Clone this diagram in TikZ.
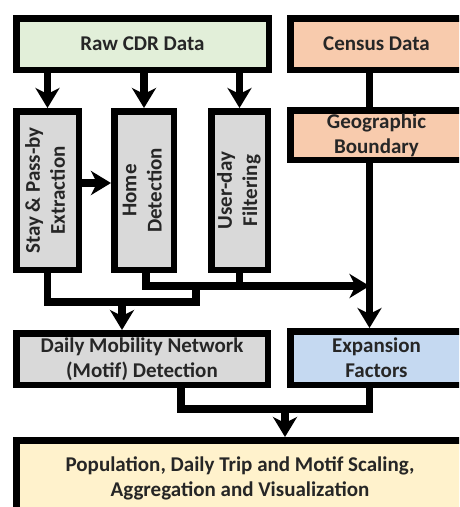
\documentclass[tikz,border=0pt]{standalone}
\usepackage{fontspec}
\setmainfont{Carlito}
\usepackage{graphicx}
\usetikzlibrary{positioning,arrows.meta}
\definecolor{cdrgreen}{HTML}{E2EFD9}
\definecolor{censusorange}{HTML}{F8CBAD}
\definecolor{stepgray}{HTML}{D9D9D9}
\definecolor{expblue}{HTML}{C5D9F1}
\definecolor{finalyellow}{HTML}{FFF2CC}
% rotated two-line label for the tall step boxes
\newcommand{\vlabel}[1]{\rotatebox{90}{\begin{tabular}{@{}c@{}}#1\end{tabular}}}
\begin{document}
\begin{tikzpicture}[x=1pt,y=-1pt,
  box/.style={draw=black,line width=6.5pt,text=black!85,align=center,inner sep=0pt,
    font=\fontsize{21}{25}\selectfont\bfseries},
  stepbox/.style={box,fill=stepgray,minimum height=158.5pt},
  conn/.style={line width=7.5pt},
  arr/.style={conn,-{Stealth[length=20pt,width=24pt,inset=6pt]}}]
\useasboundingbox (0,0) rectangle (459,507);
\clip (0,0) rectangle (459,507);
% data sources
\node[box,fill=cdrgreen,minimum width=252.5pt,minimum height=51.5pt] (raw) at (142.5,44) {Raw CDR Data};
\node[box,fill=censusorange,minimum width=172.5pt,minimum height=51.5pt] (census) at (376.5,44) {Census Data};
\node[box,fill=censusorange,minimum width=172.5pt,minimum height=49.5pt] (geo) at (376.5,135) {Geographic\\Boundary};
% processing steps (vertical text)
\node[stepbox,minimum width=62.5pt] (stay) at (47.5,190.5) {\vlabel{Stay \& Pass-by\\Extraction}};
\node[stepbox,minimum width=59.5pt] (home) at (144,190.5) {\vlabel{Home\\Detection}};
\node[stepbox,minimum width=56.5pt] (user) at (239.5,190.5) {\vlabel{User-day\\Filtering}};
% results
\node[box,fill=stepgray,minimum width=251.5pt,minimum height=51.5pt] (daily) at (142,359) {Daily Mobility Network\\(Motif) Detection};
\node[box,fill=expblue,minimum width=172.5pt,minimum height=53.5pt] (expan) at (376.5,358) {Expansion\\Factors};
\node[box,fill=finalyellow,minimum width=447.5pt,minimum height=77pt] (final) at (240,478.75) {Population, Daily Trip and Motif Scaling,\\Aggregation and Visualization};
% raw data into the three steps
\foreach \n in {stay,home,user}{
  \draw[arr] (raw.south -| \n.north) -- (\n.north);
}
\draw[arr] ([yshift=7.5pt]stay.east) -- ([yshift=7.5pt]stay.east -| home.west);
% census side column
\draw[conn] ([xshift=-7pt]census.south) -- ([xshift=-7pt]geo.north);
\draw[arr] ([xshift=-7pt]geo.south) -- ([xshift=-7pt]expan.north);
% joins below the steps
\coordinate (expIn) at ([xshift=-7pt]geo.south |- 0,286);
\coordinate (mobJoin) at (196,302);
\coordinate (mobIn) at (122,302);
\draw[conn] (stay.south) |- (mobJoin) -- (mobJoin |- expIn);
\draw[arr] ([xshift=2pt]home.south) |- (expIn);
\draw[conn] (user.south) -- (user.south |- expIn);
\draw[arr] (mobIn) -- (mobIn |- daily.north);
% both results into the final step
\coordinate (finIn) at (285,409);
\draw[conn] ([xshift=39pt]daily.south) |- (finIn -| expIn) -- (expan.south -| expIn);
\draw[arr] (finIn) -- (finIn |- final.north);
\end{tikzpicture}
\end{document}
